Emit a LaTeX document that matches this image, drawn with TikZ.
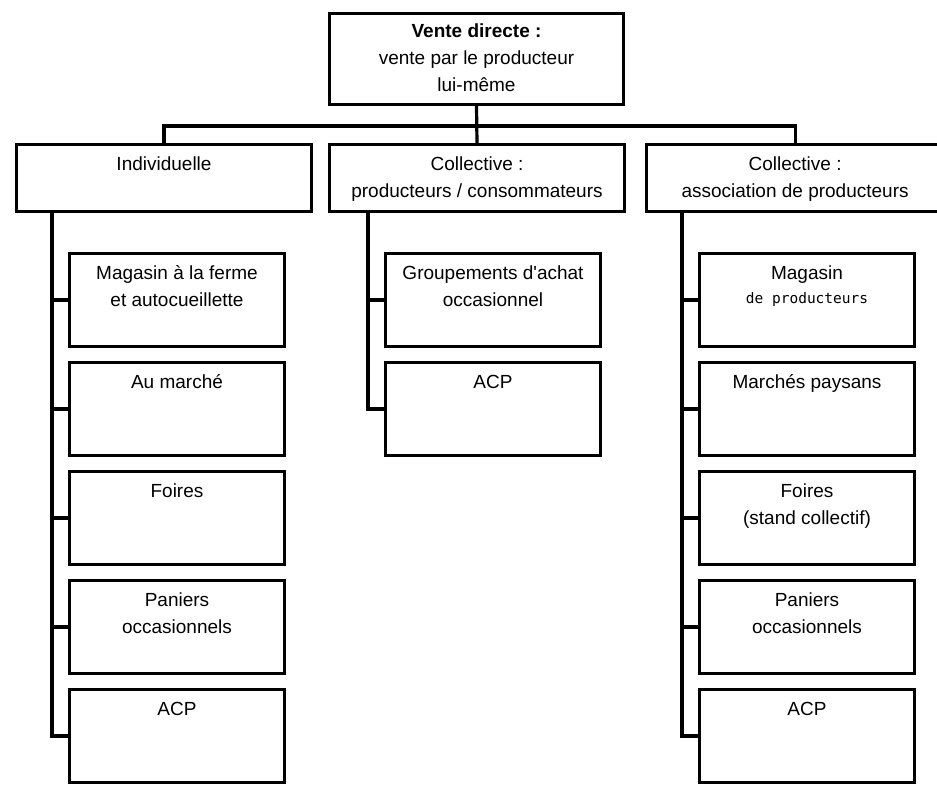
\documentclass[tikz,border=0pt]{standalone}
\usepackage{fontspec}
\setmainfont{Liberation Sans}
\newfontfamily\monofont{DejaVu Sans Mono}
\usetikzlibrary{positioning}
\newcommand{\lines}[1]{\begin{tabular}[t]{@{}c@{}}#1\end{tabular}}

\begin{document}
\begin{tikzpicture}[x=1pt,y=-1pt,line width=3.2pt,
    box/.style={draw,rectangle,inner sep=0pt,anchor=north west,
        font=\fontsize{19}{27.5}\selectfont,text height=25.4pt},
    head/.style={box,minimum width=294.8pt,minimum height=66.8pt,text depth=41.4pt},
    item/.style={box,minimum width=214.8pt,minimum height=92.8pt,text depth=67.4pt}]
    \useasboundingbox (0,0) rectangle (937,787);
    \clip (0,0) rectangle (937,787);

    \node[box,minimum width=293.8pt,minimum height=90.8pt,text height=23.4pt,text depth=67.4pt] (vd) at (328,12)
        {\lines{\textbf{Vente directe :}\\vente par le producteur\\lui-même}};

    \node[head] (ind) at (15,143) {Individuelle};
    \node[head] (coll) at (328,143) {\lines{Collective :\\producteurs / consommateurs}};
    \node[head,minimum width=297pt] (asso) at (645,143) {\lines{Collective :\\association de producteurs}};

    % individuelle
    \node[item] (i1) at (68,252) {\lines{Magasin à la ferme\\et autocueillette}};
    \node[item,below=13pt of i1] (i2) {Au marché};
    \node[item,below=13pt of i2] (i3) {Foires};
    \node[item,below=13pt of i3] (i4) {\lines{Paniers\\occasionnels}};
    \node[item,below=13pt of i4] (i5) {ACP};

    % producteurs / consommateurs
    \node[item] (c1) at (384,252) {\lines{Groupements d\textquotesingle achat\\occasionnel}};
    \node[item,below=13pt of c1] (c2) {ACP};

    % association de producteurs
    \node[item] (a1) at (698,252) {\lines{Magasin\\[-3pt]{\monofont\fontsize{14.5}{17}\selectfont de producteurs}}};
    \node[item,below=13pt of a1] (a2) {Marchés paysans};
    \node[item,below=13pt of a2] (a3) {\lines{Foires\\(stand collectif)}};
    \node[item,below=13pt of a3] (a4) {\lines{Paniers\\occasionnels}};
    \node[item,below=13pt of a4] (a5) {ACP};

    \coordinate (bar) at ([yshift=-20pt]vd.south);
    \draw (vd.south) -- (coll.north);
    \draw (ind.north) |- (bar) -| (asso.north);

    \draw ([xshift=-16pt]i1.west |- ind.south) |- (i5.west);
    \foreach \n in {1,...,4}
        \draw ([xshift=-16pt]i\n.west) -- (i\n.west);
    \draw ([xshift=-16pt]c1.west |- coll.south) |- (c2.west);
    \draw ([xshift=-16pt]c1.west) -- (c1.west);
    \draw ([xshift=-16pt]a1.west |- asso.south) |- (a5.west);
    \foreach \n in {1,...,4}
        \draw ([xshift=-16pt]a\n.west) -- (a\n.west);
\end{tikzpicture}
\end{document}
